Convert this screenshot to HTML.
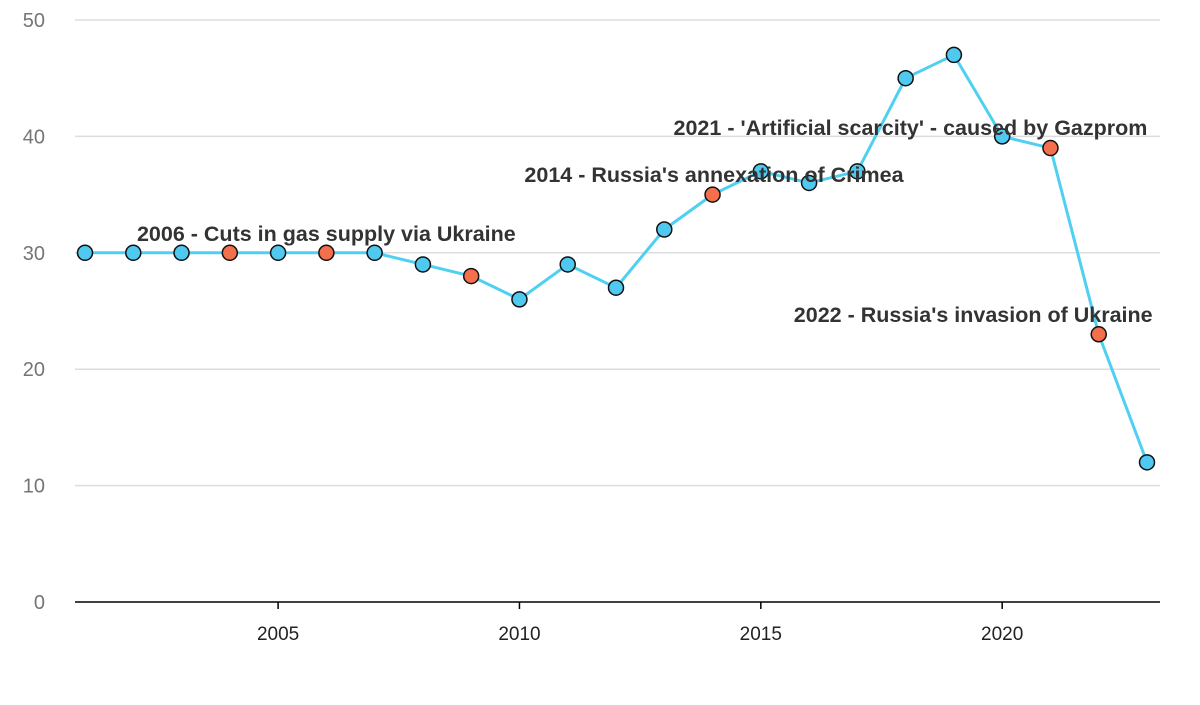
<!DOCTYPE html>
<html><head><meta charset="utf-8"><style>
body{margin:0;background:#fff;font-family:"Liberation Sans",Arial,sans-serif}
svg text{font-family:"Liberation Sans",Arial,sans-serif}
</style></head><body>
<svg id="chart" width="1200" height="700" viewBox="0 0 1200 700" xmlns="http://www.w3.org/2000/svg">
<g id="grid"></g>
<g id="yticks"></g>
<g id="xticks"></g>
<path id="line" fill="none" stroke="#4fd0f2" stroke-width="3" stroke-linejoin="round"/>
<g id="points"></g>
<g id="notes"></g>
</svg>
<script>
const years=[2001,2002,2003,2004,2005,2006,2007,2008,2009,2010,2011,2012,2013,2014,2015,2016,2017,2018,2019,2020,2021,2022,2023];
const values=[30,30,30,30,30,30,30,29,28,26,29,27,32,35,37,36,37,45,47,40,39,23,12];
const highlighted=[2004,2006,2009,2014,2021,2022];
const yTicks=[0,10,20,30,40,50];
const xTicks=[2005,2010,2015,2020];
const noteYears=[2006,2014.03,2018.1,2019.4];
const noteValues=[31,36.1,40.1,24.05];
const noteTexts=["2006 - Cuts in gas supply via Ukraine","2014 - Russia's annexation of Crimea","2021 - 'Artificial scarcity' - caused by Gazprom","2022 - Russia's invasion of Ukraine"];

const NS="http://www.w3.org/2000/svg";
const X=y=>85+(y-2001)*(1147-85)/22;
const Y=v=>602-v*(602-20)/50;
function mk(tag,attrs,parent){const e=document.createElementNS(NS,tag);for(const k in attrs)e.setAttribute(k,attrs[k]);parent.appendChild(e);return e;}
const grid=document.getElementById('grid'),yt=document.getElementById('yticks'),xt=document.getElementById('xticks');
yTicks.forEach(t=>{
  if(t>0){const l=mk('line',{x1:75,x2:1160,y1:Y(t),y2:Y(t),stroke:'#dddddd','stroke-width':1.5},grid);
  
  }
  const tx=mk('text',{x:45,y:Y(t)+7,'text-anchor':'end','font-size':20,fill:'#757575'},yt);tx.textContent=t;
  
  
});
const ax=mk('line',{x1:75,x2:1160,y1:602,y2:602,stroke:'#000','stroke-width':1.5},xt);


xTicks.forEach(t=>{
  const tk=mk('line',{x1:X(t),x2:X(t),y1:602,y2:609,stroke:'#000','stroke-width':1.5},xt);
  
  
  const tx=mk('text',{x:X(t),y:640,'text-anchor':'middle','font-size':19,fill:'#222'},xt);tx.textContent=t;
  
  
});
document.getElementById('line').setAttribute('d',years.map((y,i)=>(i?'L':'M')+X(y)+','+Y(values[i])).join(''));
const pts=document.getElementById('points');
years.forEach((y,i)=>{
  const c=mk('circle',{cx:X(y),cy:Y(values[i]),r:7.5,fill:highlighted.includes(y)?'#f4704c':'#4fc9ef',stroke:'#111','stroke-width':1.5},pts);
  
  
});
const notes=document.getElementById('notes');
noteYears.forEach((y,i)=>{
  const t=mk('text',{x:X(y),y:Y(noteValues[i]),'text-anchor':'middle','font-size':21.5,'font-weight':'bold',fill:'#333'},notes);
  t.textContent=noteTexts[i];
  
  
});
</script>
</body></html>
